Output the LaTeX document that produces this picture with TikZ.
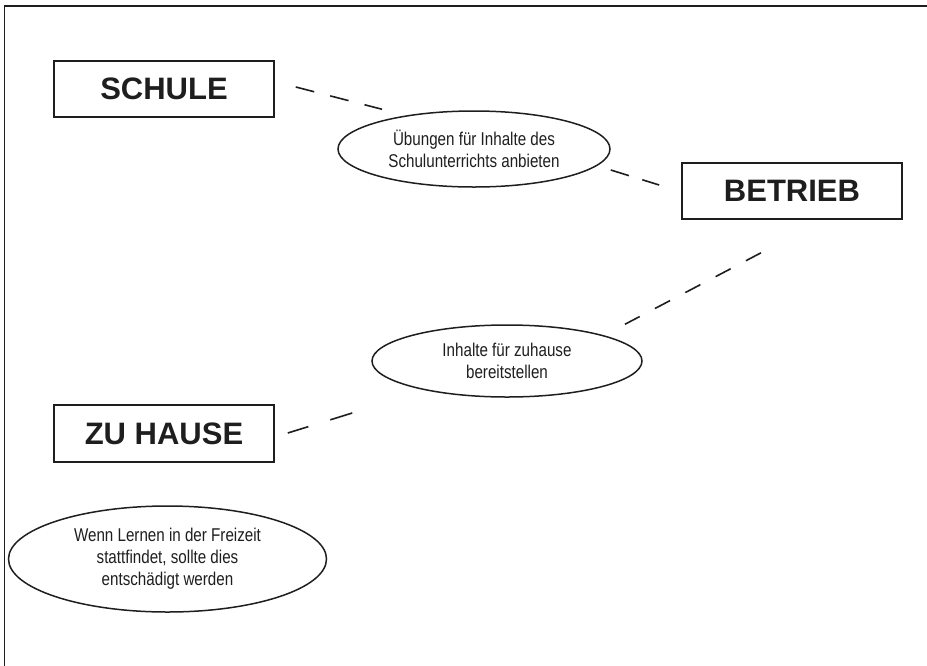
\documentclass[tikz,border=0pt]{standalone}
\usepackage{fontspec}
\setmainfont{Liberation Sans}
\newfontfamily\narrowfont[FakeStretch=0.82]{Liberation Sans}
\usetikzlibrary{shapes.geometric}
\definecolor{ink}{HTML}{1E1E1E}
\tikzset{
  labelbox/.style={draw=ink, line width=1.6pt, minimum width=220pt, minimum height=56pt, inner sep=0pt,
    text=ink, font=\bfseries\fontsize{31}{36}\selectfont},
  bubble/.style={ellipse, draw=ink, line width=1.5pt, inner sep=0pt, align=center, text=ink,
    font=\narrowfont\fontsize{18.5}{22}\selectfont},
  link/.style={draw=ink, line width=1.6pt, dash pattern=on 19pt off 17pt},
  frame/.style={draw=ink, line width=1.8pt}
}
\begin{document}
\begin{tikzpicture}[x=1pt, y=-1pt]
\useasboundingbox (0,0) rectangle (927,665);
\draw[frame] (4.5,670) -- (4.5,5.7) -- (935,5.7);

\node[labelbox] (schule) at (164,89) {SCHULE};
\node[labelbox] (betrieb) at (792,191) {BETRIEB};
\node[labelbox, minimum height=57pt] (zuhause) at (164,433.5) {ZU HAUSE};

\node[bubble, minimum width=272pt, minimum height=76pt] (ue) at (474,149)
  {Übungen für Inhalte des\\Schulunterrichts anbieten};
\node[bubble, minimum width=270pt, minimum height=72pt] (ih) at (507,361)
  {Inhalte für zuhause\\bereitstellen};
\node[bubble, minimum width=318pt, minimum height=106pt] (frei) at (167.5,559)
  {Wenn Lernen in der Freizeit\\stattfindet, sollte dies\\entschädigt werden};

\coordinate (l1a) at ([shift={(21,-2)}]schule.east);
\coordinate (l1b) at ([shift={(-92,-1)}]ue.north);
\coordinate (l2a) at ([shift={(0,21)}]ue.east);
\coordinate (l2b) at ([shift={(-22,-6)}]betrieb.west);
\coordinate (l3a) at ([shift={(-31,33)}]betrieb.south);
\coordinate (l3b) at ([shift={(118,0)}]ih.north);
\coordinate (l4a) at ([shift={(-19,52)}]ih.west);
\coordinate (l4b) at ([shift={(13,-0.5)}]zuhause.east);

\draw[link, dash pattern=on 19pt off 16.5pt] (l1a) -- (l1b);
\draw[link, dash pattern=on 19pt off 14pt] (l2a) -- (l2b);
\draw[link, dash pattern=on 17pt off 17.25pt] (l3a) -- (l3b);
\draw[link, dash pattern=on 23pt off 23pt] (l4a) -- (l4b);
\end{tikzpicture}
\end{document}
